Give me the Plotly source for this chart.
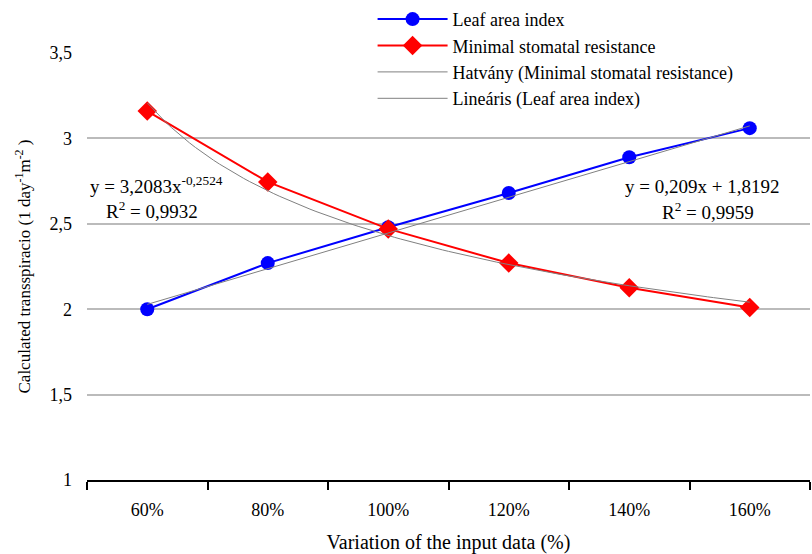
import numpy as np
import plotly.graph_objects as go

categories = ["60%", "80%", "100%", "120%", "140%", "160%"]
leaf_area_index = [2.00, 2.27, 2.48, 2.68, 2.89, 3.06]
min_stomatal_res = [3.16, 2.745, 2.47, 2.27, 2.125, 2.01]

# trendline coefficients as printed on the chart
power_a, power_b = 3.2083, -0.2524
lin_slope, lin_icpt = 0.209, 1.8192

y_tickvals = [1, 1.5, 2, 2.5, 3, 3.5]
y_ticktext = ["1", "1,5", "2", "2,5", "3", "3,5"]

xpos = np.arange(1, len(categories) + 1)
xt = np.linspace(1, len(categories), 101)

FONT = "Liberation Serif"

fig = go.Figure()
fig.add_trace(go.Scatter(
    x=xpos, y=leaf_area_index, name="Leaf area index", mode="lines+markers",
    line=dict(color="#0000FF", width=2),
    marker=dict(symbol="circle", size=14, color="#0000FF")))
fig.add_trace(go.Scatter(
    x=xpos, y=min_stomatal_res, name="Minimal stomatal resistance", mode="lines+markers",
    line=dict(color="#FF0000", width=2),
    marker=dict(symbol="diamond", size=15, color="#FF0000")))
fig.add_trace(go.Scatter(
    x=xt, y=power_a * xt ** power_b, name="Hatvány (Minimal stomatal resistance)",
    mode="lines", line=dict(color="#808080", width=1)))
fig.add_trace(go.Scatter(
    x=xt, y=lin_slope * xt + lin_icpt, name="Lineáris (Leaf area index)",
    mode="lines", line=dict(color="#808080", width=1)))

fig.update_layout(
    width=812, height=554,
    margin=dict(l=87, r=2, t=53, b=74, autoexpand=False),
    paper_bgcolor="white", plot_bgcolor="white",
    font=dict(family=FONT, size=18, color="black"),
    showlegend=True,
    legend=dict(x=0.395, y=1.122, xanchor="left", yanchor="top",
                bgcolor="rgba(0,0,0,0)", itemwidth=70, tracegroupgap=0,
                font=dict(family=FONT, size=18)),
    xaxis=dict(range=[0.5, 6.5], tickmode="array", tickvals=list(xpos), ticktext=categories,
               ticks="", showgrid=False, zeroline=False, automargin=False,
               showline=True, linecolor="black", linewidth=2,
               tickfont=dict(size=18), ticklabelstandoff=12,
               minor=dict(tickmode="array", tickvals=[0.5, 1.5, 2.5, 3.5, 4.5, 5.5, 6.5],
                          ticks="outside", ticklen=8, tickwidth=1.5, tickcolor="black", showgrid=False),
               title=dict(text="Variation of the input data (%)", font=dict(size=20), standoff=17)),
    yaxis=dict(range=[1, 3.5], tickmode="array", tickvals=y_tickvals, ticktext=y_ticktext,
               showgrid=True, gridcolor="#BBBBBB", gridwidth=1.5, zeroline=False, automargin=False,
               showline=False, ticks="", tickfont=dict(size=18), ticklabelstandoff=14,
               title=dict(text="Calculated transspiracio (1 day<sup>-1</sup>m<sup>-2</sup> )",
                          font=dict(size=17), standoff=14)),
    shapes=[dict(type="rect", xref="paper", yref="paper", x0=(323 - 87) / 723, x1=1.01,
                 y0=1 - 6 / 427, y1=1 + 6 / 427, fillcolor="white", line=dict(width=0),
                 layer="above")],
    annotations=[
        dict(text="y = 3,2083x<sup>-0,2524</sup>", x=(156 - 87) / 723, y=(480 - 185) / 427,
             xref="paper", yref="paper", xanchor="center", yanchor="middle",
             showarrow=False, font=dict(size=19)),
        dict(text="R<sup>2</sup> = 0,9932", x=(152 - 87) / 723, y=(480 - 210) / 427,
             xref="paper", yref="paper", xanchor="center", yanchor="middle",
             showarrow=False, font=dict(size=19)),
        dict(text="y = 0,209x + 1,8192", x=(702 - 87) / 723, y=(480 - 186) / 427,
             xref="paper", yref="paper", xanchor="center", yanchor="middle",
             showarrow=False, font=dict(size=19)),
        dict(text="R<sup>2</sup> = 0,9959", x=(708 - 87) / 723, y=(480 - 211) / 427,
             xref="paper", yref="paper", xanchor="center", yanchor="middle",
             showarrow=False, font=dict(size=19)),
    ],
)

fig.write_html("out.html", config={"displayModeBar": False},
               post_script="document.body.style.margin='0';document.body.style.overflow='hidden';")
